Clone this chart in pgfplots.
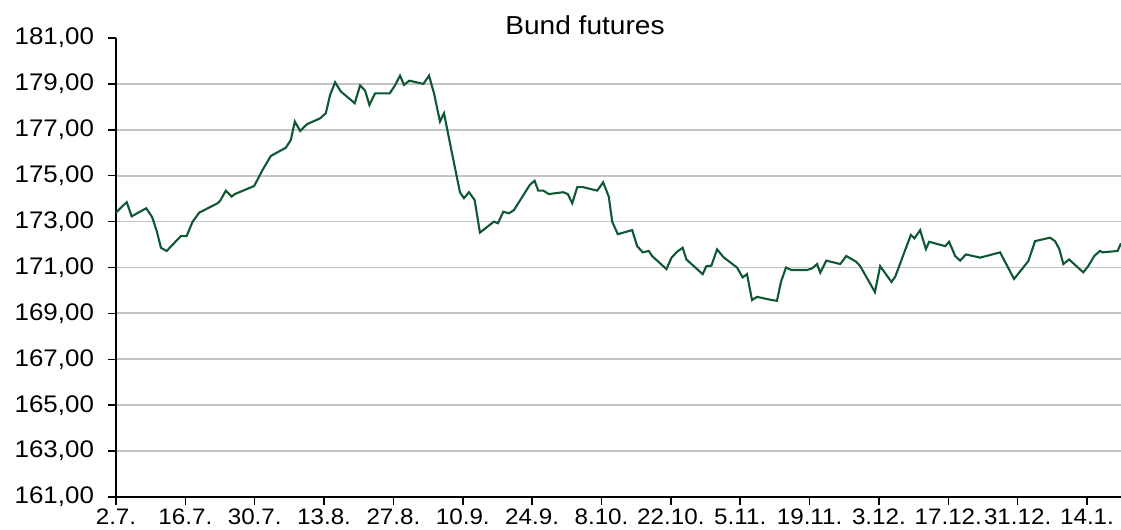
\documentclass[border=0pt]{standalone}
\usepackage{pgfplots}
\pgfplotsset{compat=1.18}
\usepackage{fontspec}
\setmainfont{Liberation Sans}
\newfontfamily\widefont[FakeStretch=1.08]{Liberation Sans}
\definecolor{bundgreen}{RGB}{14,88,52}
\definecolor{gridgray}{RGB}{196,196,196}
\begin{document}
\begin{tikzpicture}
\begin{axis}[
  at={(0,0)}, anchor=south west,
  scale only axis,
  width=502.5pt, height=229.5pt,
  xmin=0, xmax=144.9,
  ymin=161, ymax=181,
  ytick={161,163,...,179},
  extra y ticks={181},
  extra y tick style={grid=none},
  xtick={0,10,...,140},
  xticklabels={2.7.,16.7.,30.7.,13.8.,27.8.,10.9.,24.9.,8.10.,22.10.,5.11.,19.11.,3.12.,17.12.,31.12.,14.1.},
  axis x line*=bottom, axis y line*=left,
  axis line style={black, line width=0.75pt, -},
  tick style={black, line width=0.75pt},
  major tick length=4pt,
  tick align=outside,
  ymajorgrids,
  major grid style={gridgray, line width=0.9pt},
  /pgf/number format/assume math mode=true,
  yticklabel={\pgfmathprintnumber[fixed, fixed zerofill, precision=2, use comma, 1000 sep={}]{\tick}},
  yticklabel style={font=\widefont\fontsize{12}{14}\selectfont, xshift=-3.5pt},
  xticklabel style={font=\widefont\fontsize{11.2}{13}\selectfont, inner sep=0pt, yshift=-1.6pt},
  clip=false,
]
\addplot[bundgreen, line width=1.05pt, mark=none] coordinates {
(0,173.39) (1.54,173.85) (2.26,173.23) (4.36,173.58) (5.19,173.21) (5.86,172.6) (6.48,171.86) (7.30,171.72)
(9.36,172.37) (10.18,172.37) (11.05,173.0) (12.0,173.39) (14.65,173.8) (15.02,173.91) (15.84,174.35) (16.66,174.09)
(17.14,174.2) (19.92,174.55) (21.13,175.25) (22.32,175.86) (24.49,176.22) (25.21,176.56) (25.78,177.36) (26.55,176.95)
(27.51,177.24) (29.43,177.5) (30.25,177.72) (30.87,178.52) (31.59,179.07) (32.41,178.67) (34.42,178.16) (35.19,178.93)
(35.91,178.71) (36.54,178.08) (37.35,178.59) (39.46,178.59) (40.18,178.91) (40.95,179.36) (41.52,178.96) (42.30,179.14)
(44.32,179.0) (45.13,179.36) (45.85,178.59) (46.71,177.36) (47.29,177.72) (48.25,176.27) (49.59,174.28) (50.17,174.02)
(50.89,174.28) (51.71,173.94) (52.47,172.52) (54.49,173.0) (55.07,172.93) (55.84,173.43) (56.65,173.36) (57.37,173.5)
(59.67,174.6) (60.35,174.78) (60.88,174.35) (61.60,174.35) (62.41,174.2) (64.48,174.28) (65.14,174.2) (65.78,173.8)
(66.50,174.5) (67.36,174.5) (69.38,174.35) (70.24,174.71) (71.05,174.09) (71.54,173.0) (72.35,172.45) (74.42,172.63)
(75.14,171.93) (75.95,171.66) (76.81,171.72) (77.30,171.5) (79.36,170.93) (80.08,171.42) (80.90,171.69) (81.71,171.86)
(82.24,171.35) (84.59,170.71) (85.12,171.06) (85.84,171.08) (86.66,171.79) (87.61,171.44) (89.54,171.0) (90.35,170.57)
(90.98,170.71) (91.70,169.58) (92.42,169.72) (94.58,169.58) (95.30,169.55) (95.88,170.38) (96.60,171.0) (97.36,170.89)
(99.63,170.89) (100.35,170.96) (101.07,171.15) (101.54,170.77) (102.41,171.3) (104.42,171.15) (105.29,171.5) (106.73,171.25)
(107.30,171.06) (109.42,169.93) (110.18,171.06) (111.81,170.37) (112.35,170.6) (114.60,172.42) (115.12,172.27) (115.94,172.63)
(116.77,171.8) (117.24,172.12) (119.55,171.93) (120.12,172.12) (120.99,171.5) (121.71,171.3) (122.53,171.57) (124.59,171.43)
(127.47,171.66) (129.48,170.5) (131.54,171.28) (132.51,172.15) (134.67,172.3) (135.39,172.15) (136.01,171.8) (136.59,171.15)
(137.41,171.35) (139.46,170.79) (140.18,171.06) (141.04,171.5) (141.86,171.72) (142.25,171.66) (144.41,171.72) (144.89,172.05)
};
\end{axis}
\node[anchor=base, font=\widefont\fontsize{13}{15}\selectfont] at (234.5pt,231pt) {Bund futures};
\pgfresetboundingbox
\useasboundingbox (-58pt,-16.5pt) rectangle (502.5pt,248.5pt);
\end{tikzpicture}
\end{document}
